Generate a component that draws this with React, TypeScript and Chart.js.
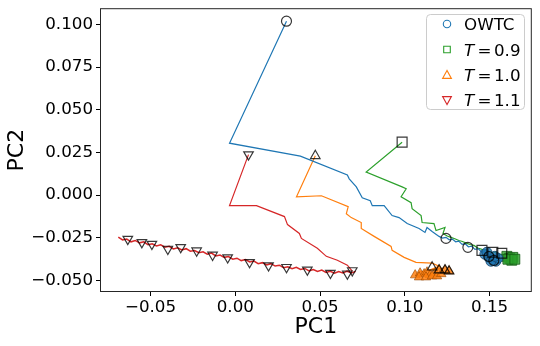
import React, { useEffect, useRef } from 'react';
import { Chart, registerables } from 'chart.js';

Chart.register(...registerables);

type P = [number, number];

// ---- axis ticks ----
const xTickValues = [-0.05, 0, 0.05, 0.1, 0.15];
const yTickValues = [-0.05, -0.025, 0, 0.025, 0.05, 0.075, 0.1];
const xRange: P = [-0.0798, 0.1749];
const yRange: P = [-0.0568, 0.1095];

// ---- legend / series ----
const seriesNames = ['OWTC', 'T=0.9', 'T=1.0', 'T=1.1'];
const seriesColors = ['#1f77b4', '#2ca02c', '#ff7f0e', '#d62728'];

// ---- OWTC (blue) ----
const owtcPath: P[] = [
  [0.0302, 0.1019], [-0.0034, 0.0304], [0.0384, 0.0228], [0.0661, 0.0118], [0.0672, 0.0095],
  [0.0714, 0.0048], [0.0749, -0.0016], [0.0796, -0.0033], [0.0808, -0.0062], [0.0878, -0.0062],
  [0.0925, -0.012], [0.0966, -0.0132], [0.1014, -0.0167], [0.1084, -0.0196], [0.1119, -0.0219],
  [0.1131, -0.019], [0.1161, -0.0213], [0.1202, -0.0242], [0.1222, -0.0252], [0.1243, -0.0248],
  [0.1262, -0.0262], [0.128, -0.0258], [0.13, -0.0274], [0.1318, -0.027], [0.1338, -0.0289],
  [0.1356, -0.0285], [0.1375, -0.0303], [0.1394, -0.03], [0.1414, -0.0318], [0.1432, -0.0314],
  [0.1455, -0.0335], [0.1472, -0.033], [0.1496, -0.0353], [0.1525, -0.037], [0.1514, -0.0388],
  [0.1543, -0.0394], [0.1555, -0.0376],
];
const owtcMarks: P[] = [
  [0.0302, 0.1019], [0.1243, -0.0254], [0.1372, -0.0306], [0.1496, -0.036], [0.1525, -0.0383],
];
const owtcCluster: P[] = [
  [0.1472, -0.0347], [0.1496, -0.0365], [0.1519, -0.0376], [0.1537, -0.0388],
  [0.1508, -0.0388], [0.1549, -0.037], [0.1484, -0.0335], [0.1531, -0.0359],
];

// ---- T = 0.9 (green) ----
const t09Path: P[] = [
  [0.0984, 0.031], [0.0772, 0.0135], [0.0984, 0.0048], [0.1008, 0.0037], [0.0978, -0.001],
  [0.1037, -0.0045], [0.1043, -0.008], [0.1096, -0.012], [0.1102, -0.0161], [0.1172, -0.0167],
  [0.1184, -0.0208], [0.1237, -0.019], [0.1225, -0.0225], [0.125, -0.024], [0.1272, -0.0248],
  [0.1295, -0.0256], [0.1319, -0.0266], [0.134, -0.0272], [0.1366, -0.0283], [0.1388, -0.0291],
  [0.1408, -0.0295], [0.143, -0.031], [0.1455, -0.0318], [0.1478, -0.0326], [0.1496, -0.033],
  [0.152, -0.0338], [0.1537, -0.0335], [0.156, -0.035], [0.1572, -0.0347], [0.1602, -0.0359],
  [0.1625, -0.0365], [0.1643, -0.0359], [0.1619, -0.0376], [0.1637, -0.037],
];
const t09Marks: P[] = [[0.0984, 0.031], [0.1455, -0.0324], [0.1519, -0.0335], [0.1572, -0.0341]];
const t09Cluster: P[] = [
  [0.1602, -0.0359], [0.1619, -0.037], [0.1637, -0.0365], [0.1631, -0.0382], [0.1608, -0.0376], [0.1649, -0.0376],
];

// ---- T = 1.0 (orange) ----
const t10Path: P[] = [
  [0.0472, 0.023], [0.0361, -0.001], [0.0508, -0.0004], [0.0666, -0.0068], [0.0655, -0.0109],
  [0.0684, -0.0132], [0.0743, -0.0161], [0.0743, -0.0196], [0.0819, -0.0242], [0.0919, -0.0301],
  [0.0925, -0.0324], [0.0996, -0.0365], [0.1066, -0.0394], [0.1161, -0.0399], [0.1202, -0.0417],
  [0.1143, -0.044], [0.1231, -0.0428], [0.1084, -0.0452],
];
const t10Marks: P[] = [[0.0472, 0.023], [0.1161, -0.0423], [0.1202, -0.044], [0.1237, -0.044], [0.1261, -0.0446]];
const t10Cluster: P[] = [
  [0.1061, -0.0469], [0.109, -0.0458], [0.1114, -0.0463], [0.1131, -0.0452], [0.1149, -0.0469],
  [0.1178, -0.0458], [0.1084, -0.0481], [0.1125, -0.0481], [0.1161, -0.0475], [0.119, -0.0475],
  [0.1202, -0.044], [0.1237, -0.044], [0.1261, -0.0446], [0.1215, -0.0462],
];

// ---- T = 1.1 (red) ----
const t11Path: P[] = [
  [0.0078, 0.0237], [-0.0034, -0.0062], [0.0125, -0.0062], [0.029, -0.0126], [0.0308, -0.0173],
  [0.0378, -0.0225], [0.039, -0.0254], [0.0484, -0.0312], [0.0537, -0.0359], [0.0602, -0.0382],
  [0.0661, -0.0411], [0.069, -0.0446],
];
const t11Drift: P[] = [
  [-0.069, -0.0247], [-0.0665, -0.0263], [-0.064, -0.0258], [-0.0615, -0.0274], [-0.059, -0.0266],
  [-0.0565, -0.028], [-0.054, -0.0274], [-0.0515, -0.0291], [-0.049, -0.0286], [-0.0465, -0.0298],
  [-0.044, -0.0291], [-0.0415, -0.0305], [-0.039, -0.03], [-0.0365, -0.0316], [-0.034, -0.0309],
  [-0.0315, -0.0321], [-0.029, -0.0314], [-0.0265, -0.0329], [-0.024, -0.0325], [-0.0215, -0.0338],
  [-0.019, -0.0332], [-0.0165, -0.0346], [-0.014, -0.034], [-0.0115, -0.0357], [-0.009, -0.0352],
  [-0.0065, -0.0365], [-0.004, -0.036], [-0.0015, -0.0376], [0.001, -0.037], [0.0035, -0.0384],
  [0.006, -0.0378], [0.0085, -0.0392], [0.011, -0.0387], [0.0135, -0.0402], [0.016, -0.0396],
  [0.0185, -0.0409], [0.021, -0.0402], [0.0235, -0.0416], [0.026, -0.0411], [0.0285, -0.0426],
  [0.031, -0.042], [0.0335, -0.0432], [0.036, -0.0423], [0.0385, -0.0436], [0.041, -0.043],
  [0.0435, -0.0444], [0.046, -0.0436], [0.0485, -0.0448], [0.051, -0.044], [0.0535, -0.0453],
  [0.056, -0.0447], [0.0585, -0.0458], [0.061, -0.0448], [0.0635, -0.0457], [0.066, -0.0446],
  [0.0685, -0.0456], [0.071, -0.0447],
];
const t11Marks: P[] = [
  [0.0078, 0.0237], [-0.0634, -0.0258], [-0.0551, -0.0277], [-0.0492, -0.0287], [-0.0398, -0.0316],
  [-0.0322, -0.0306], [-0.0228, -0.0326], [-0.0134, -0.0351], [-0.0045, -0.0366], [0.0084, -0.0394],
  [0.0196, -0.0413], [0.0302, -0.0423], [0.0425, -0.0438], [0.0561, -0.0457], [0.0661, -0.0461],
  [0.069, -0.0442],
];

const toPts = (a: P[]) => a.map(([x, y]) => ({ x, y }));
const fmt = (v: number, d: number) => {
  const s = Math.abs(v).toFixed(d);
  return v < -1e-9 ? '\u2212' + s : s;
};

const FONT = 'DejaVu Sans';

const framePlugin = {
  id: 'frame',
  afterDatasetsDraw(chart: any) {
    const { ctx, chartArea: a } = chart;
    ctx.save();
    ctx.strokeStyle = '#262626';
    ctx.lineWidth = 1;
    ctx.strokeRect(a.left + 0.5, a.top + 0.5, a.right - a.left - 1, a.bottom - a.top - 1);
    ctx.restore();
  },
};

const legendPlugin = {
  id: 'mplLegend',
  afterDraw(chart: any) {
    const c: CanvasRenderingContext2D = chart.ctx;
    c.save();
    c.beginPath();
    (c as any).roundRect(426.5, 14.5, 98, 95, 4);
    c.fillStyle = 'rgba(255,255,255,0.8)';
    c.fill();
    c.strokeStyle = '#cccccc';
    c.lineWidth = 1;
    c.stroke();
    const rows = [24, 49.5, 75, 100];
    const mx = 447;
    const tx = 464;
    seriesNames.forEach((name, i) => {
      const y = rows[i];
      c.strokeStyle = seriesColors[i];
      c.lineWidth = 1.1;
      c.beginPath();
      if (i === 0) c.arc(mx, y, 3.7, 0, Math.PI * 2);
      else if (i === 1) c.rect(mx - 3.3, y - 3.3, 6.6, 6.6);
      else if (i === 2) { c.moveTo(mx, y - 4.6); c.lineTo(mx - 4.4, y + 3.4); c.lineTo(mx + 4.4, y + 3.4); c.closePath(); }
      else { c.moveTo(mx, y + 4.6); c.lineTo(mx - 4.4, y - 3.4); c.lineTo(mx + 4.4, y - 3.4); c.closePath(); }
      c.stroke();
      c.fillStyle = '#000';
      c.textBaseline = 'alphabetic';
      c.textAlign = 'left';
      const base = y + 6.1;
      if (name.startsWith('T=')) {
        c.font = `italic 16.7px "${FONT}"`;
        c.fillText('T', tx, base);
        c.font = `16.7px "${FONT}"`;
        c.fillText('=', tx + 13.5, base);
        c.fillText(name.slice(2), tx + 30, base);
      } else {
        c.font = `16.7px "${FONT}"`;
        c.fillText(name, tx, base);
      }
    });
    c.restore();
  },
};

export default function App() {
  const ref = useRef<HTMLCanvasElement>(null);
  useEffect(() => {
    document.body.style.margin = '0';
    const canvas = ref.current!;
    Chart.defaults.font.family = FONT;
    Chart.defaults.color = '#000';

    const lineDs = (data: P[], color: string, width = 1.2) => ({
      data: toPts(data), showLine: true, borderColor: color, borderWidth: width,
      pointRadius: 0, pointHoverRadius: 0, fill: false, tension: 0, order: 10,
    });
    const markDs = (data: P[], style: string, radius: number, rotation = 0) => ({
      data: toPts(data), showLine: false, pointStyle: style, pointRadius: radius, pointRotation: rotation,
      pointBorderColor: 'rgba(0,0,0,0.78)', pointBackgroundColor: 'rgba(0,0,0,0)', pointBorderWidth: 1.2,
      order: 1,
    });
    const clusterDs = (data: P[], style: string, radius: number, rotation: number, fillC: string, edgeC: string) => ({
      data: toPts(data), showLine: false, pointStyle: style, pointRadius: radius, pointRotation: rotation,
      pointBorderColor: edgeC, pointBackgroundColor: fillC, pointBorderWidth: 1, order: 5,
    });

    const chart = new Chart(canvas, {
      type: 'scatter',
      data: {
        datasets: [
          lineDs(owtcPath, seriesColors[0]),
          lineDs(t09Path, seriesColors[1]),
          lineDs(t10Path, seriesColors[2]),
          lineDs(t11Path, seriesColors[3]),
          lineDs(t11Drift, seriesColors[3], 1.5),
          clusterDs(owtcCluster, 'circle', 5, 0, 'rgba(31,119,180,0.8)', 'rgba(20,70,110,0.8)'),
          clusterDs(t09Cluster, 'rect', 7, 0, 'rgba(44,160,44,0.8)', 'rgba(20,90,20,0.8)'),
          clusterDs(t10Cluster, 'triangle', 5.5, 0, 'rgba(255,127,14,0.85)', 'rgba(150,70,0,0.6)'),
          markDs(owtcMarks, 'circle', 5),
          markDs(t09Marks, 'rect', 7),
          markDs(t10Marks, 'triangle', 5.5),
          markDs(t11Marks, 'triangle', 5.5, 180),
        ] as any,
      },
      options: {
        responsive: false,
        animation: false,
        devicePixelRatio: 1,
        events: [],
        layout: { padding: { left: 0, top: 6, right: 7, bottom: 0 } },
        plugins: { legend: { display: false }, tooltip: { enabled: false } },
        scales: {
          x: {
            type: 'linear',
            min: xRange[0],
            max: xRange[1],
            afterBuildTicks: (s: any) => { s.ticks = xTickValues.map((v) => ({ value: v })); },
            afterFit: (s: any) => { s.height = 54; s.paddingLeft = 0; s.paddingRight = 0; s.paddingTop = 0; s.paddingBottom = 0; },
            ticks: { callback: (v: any) => fmt(Number(v), 2), font: { size: 16.7 }, color: '#000', padding: 2, maxRotation: 0, autoSkip: false },
            grid: { display: true, drawOnChartArea: false, drawTicks: true, tickLength: 4, tickColor: '#000', tickWidth: 1 },
            border: { display: false },
            title: { display: true, text: 'PC1', font: { size: 22 }, color: '#000', padding: { top: 0, bottom: 6 } },
          },
          y: {
            type: 'linear',
            min: yRange[0],
            max: yRange[1],
            afterBuildTicks: (s: any) => { s.ticks = yTickValues.map((v) => ({ value: v })); },
            afterFit: (s: any) => { s.width = 100; s.paddingLeft = 0; s.paddingRight = 0; s.paddingTop = 0; s.paddingBottom = 0; },
            ticks: { callback: (v: any) => fmt(Number(v), 3), font: { size: 16.7 }, color: '#000', padding: 3, autoSkip: false },
            grid: { display: true, drawOnChartArea: false, drawTicks: true, tickLength: 4, tickColor: '#000', tickWidth: 1 },
            border: { display: false },
            title: { display: true, text: 'PC2', font: { size: 22 }, color: '#000', padding: { top: 4.5, bottom: 0 } },
          },
        },
      } as any,
      plugins: [framePlugin, legendPlugin],
    });
    return () => chart.destroy();
  }, []);

  return (
    <div style={{ position: 'absolute', left: 0, top: 0, width: 540, height: 346 }}>
      <canvas ref={ref} width={540} height={346} style={{ width: 540, height: 346, display: 'block' }} />
    </div>
  );
}
